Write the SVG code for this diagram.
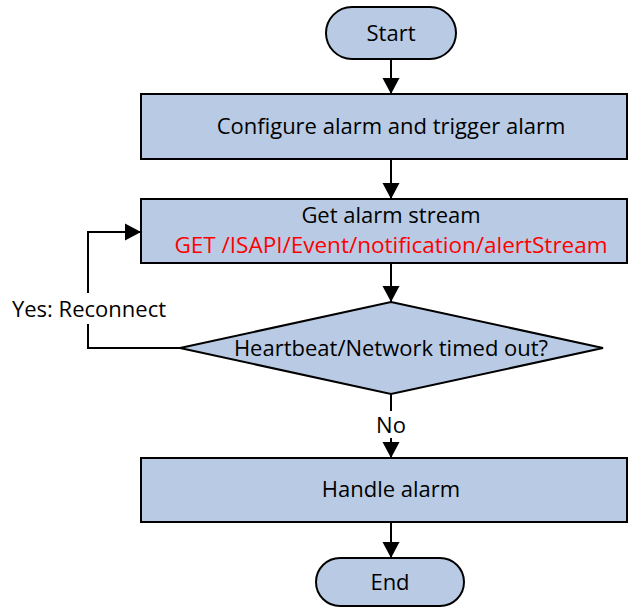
<svg xmlns="http://www.w3.org/2000/svg" width="628" height="608" viewBox="0 0 628 608">
<defs>
<marker id="arr" markerUnits="userSpaceOnUse" markerWidth="16" markerHeight="18" viewBox="0 0 16 18" refX="16" refY="9" orient="auto">
<path d="M0,0.5 L16,9 L0,17.5 Z" fill="#000"/>
</marker>
</defs>
<style>
.shape{fill:#b9cbe4;stroke:#000;stroke-width:2}
.t{font-family:"Open Sans","Noto Sans",sans-serif;font-size:22px;fill:#000;text-anchor:middle}
.red{fill:#ff0000;font-size:22.5px}
.c{fill:none;stroke:#000;stroke-width:2}
</style>
<rect width="628" height="608" fill="#fff"/>
<g id="start">
<rect class="shape" x="326" y="7" width="130" height="52" rx="26"/>
<text class="t" x="391" y="41">Start</text>
</g>
<g id="configure">
<rect class="shape" x="141" y="94" width="486" height="65"/>
<text class="t" x="391" y="134">Configure alarm and trigger alarm</text>
</g>
<g id="getstream">
<rect class="shape" x="141" y="199" width="486" height="64"/>
<text class="t" x="391" y="223">Get alarm stream</text>
<text class="t red" x="391" y="253">GET /ISAPI/Event/notification/alertStream</text>
</g>
<g id="decision">
<polygon class="shape" points="391,302 603,348 391,394 180,348"/>
<text class="t" x="391" y="356">Heartbeat/Network timed out?</text>
</g>
<g id="handle">
<rect class="shape" x="141" y="458" width="486" height="64"/>
<text class="t" x="391" y="497">Handle alarm</text>
</g>
<g id="end">
<rect class="shape" x="316" y="558" width="148" height="48" rx="24"/>
<text class="t" x="390" y="590">End</text>
</g>
<g id="connectors">
<line class="c" x1="391" y1="59" x2="391" y2="94" marker-end="url(#arr)"/>
<line class="c" x1="391" y1="159" x2="391" y2="199" marker-end="url(#arr)"/>
<line class="c" x1="391" y1="263" x2="391" y2="302" marker-end="url(#arr)"/>
<line class="c" x1="391" y1="394" x2="391" y2="411"/>
<line class="c" x1="391" y1="438" x2="391" y2="458" marker-end="url(#arr)"/>
<line class="c" x1="391" y1="522" x2="391" y2="558" marker-end="url(#arr)"/>
<polyline class="c" points="180,348 88,348 88,324"/>
<polyline class="c" points="88,293 88,232 141,232" marker-end="url(#arr)"/>
<text class="t" x="391" y="433">No</text>
<text class="t" x="89" y="317">Yes: Reconnect</text>
</g>
</svg>
